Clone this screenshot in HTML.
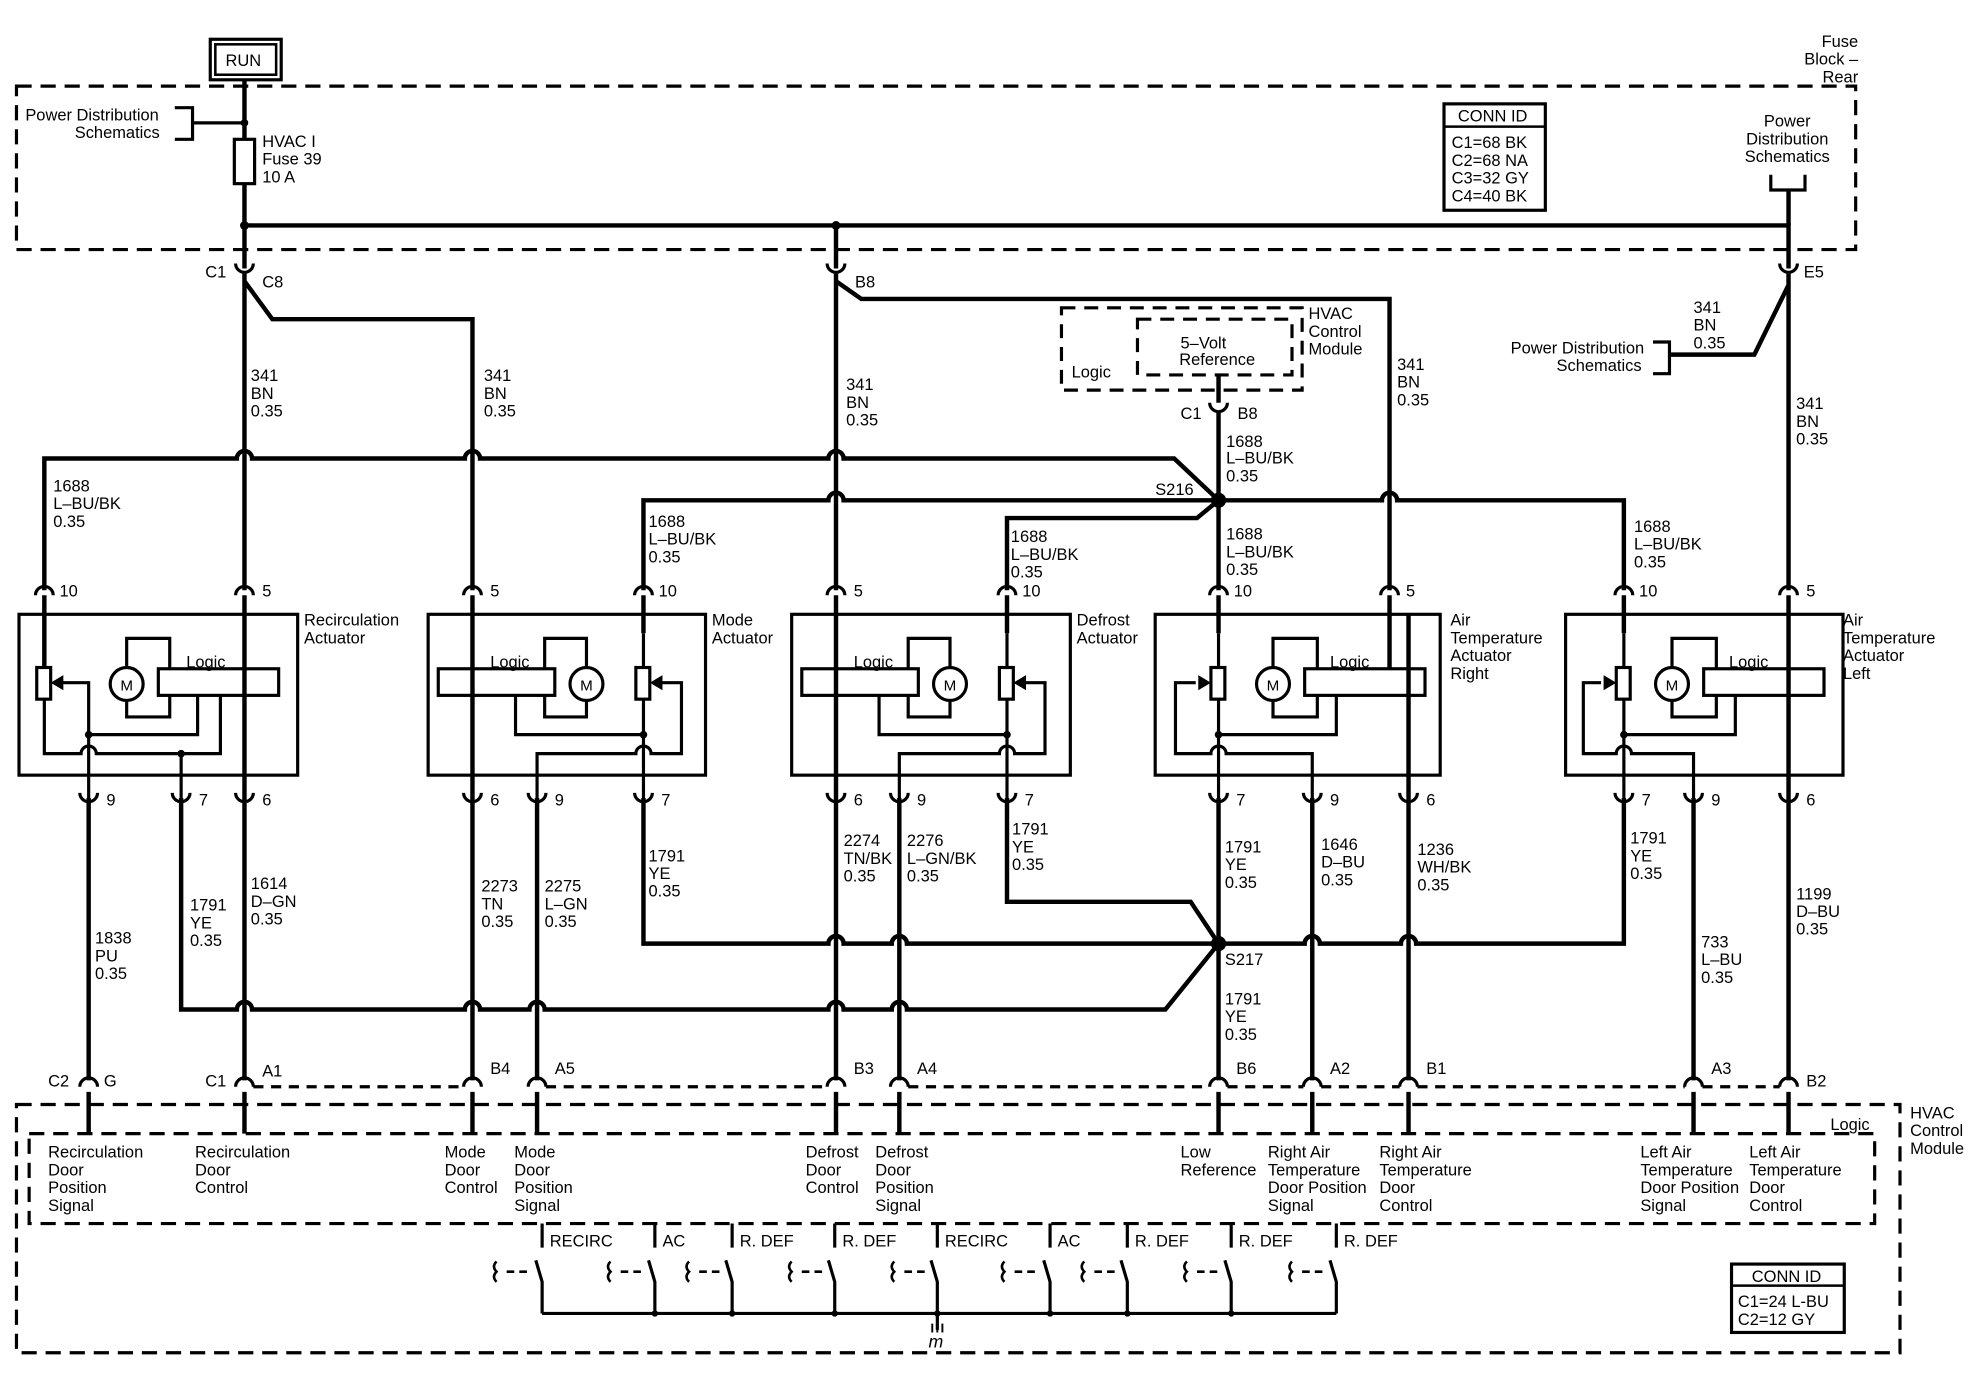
<!DOCTYPE html>
<html><head><meta charset="utf-8"><style>
html,body{margin:0;padding:0;background:#fff}
svg{display:block}
text{font-family:"Liberation Sans",Arial,sans-serif;font-size:13px;fill:#000}
</style></head><body>
<svg width="1976" height="1392" viewBox="0 0 1560 1099" preserveAspectRatio="none" xmlns="http://www.w3.org/2000/svg">
<rect width="1560" height="1099" fill="#fff"/>
<g fill="none" stroke="#000" stroke-width="3.5">
<rect x="13" y="68" width="1452" height="129" stroke-width="2.5" stroke-dasharray="12,7"/>
<rect x="166" y="31" width="56" height="32" stroke-width="2.5"/>
<rect x="170" y="35" width="48" height="24" stroke-width="2"/>
<path d="M193 63 V110 M193 145 V212"/>
<rect x="185" y="110" width="16" height="35" stroke-width="2.5"/>
<path d="M193 97 H152 M138 85 H152 V110 H138" stroke-width="2.5"/>
<path d="M193 178 H1412 V212 M660 178 V212"/>
<path d="M1398 138 V150 H1425 V138" stroke-width="2.5"/>
<path d="M1412 150 V178"/>
<rect x="1140" y="82" width="80" height="84" stroke-width="2.5"/>
<path d="M1140 100 H1220" stroke-width="2"/>
<path d="M186 208 A7 7 0 0 0 200 208 M653 208 A7 7 0 0 0 667 208 M1405 208 A7 7 0 0 0 1419 208" stroke-width="2.5"/>
<path d="M193 216 V466 M193 222 L215 252 H373 V466"/>
<path d="M660 216 V466 M660 222 L680 236 H1097 V466"/>
<path d="M1412 216 V466 M1412 225 L1385 280 H1318"/>
<path d="M1305 270 H1318 V295 H1305" stroke-width="2.5"/>
<rect x="838" y="243" width="190" height="65" stroke-width="2.5" stroke-dasharray="11,7"/>
<rect x="898" y="252" width="122" height="44" stroke-width="2.5" stroke-dasharray="11,7"/>
<path d="M962 296 V318 M962 326 V466"/>
<path d="M955 318 A7 7 0 0 0 969 318" stroke-width="2.5"/>
<path d="M35 466 V362 H187 A6 6 0 0 1 199 362 H367 A6 6 0 0 1 379 362 H654 A6 6 0 0 1 666 362 H927 L962 395"/>
<path d="M508 466 V395 H654 A6 6 0 0 1 666 395 H1091 A6 6 0 0 1 1103 395 H1282 V466"/>
<path d="M795 466 V409 H945 L962 395"/>
<g stroke-width="2.5">
<path d="M28 470 A7 7 0 0 1 42 470 M186 470 A7 7 0 0 1 200 470 M366 470 A7 7 0 0 1 380 470 M501 470 A7 7 0 0 1 515 470 M653 470 A7 7 0 0 1 667 470 M788 470 A7 7 0 0 1 802 470 M955 470 A7 7 0 0 1 969 470 M1090 470 A7 7 0 0 1 1104 470 M1275 470 A7 7 0 0 1 1289 470 M1405 470 A7 7 0 0 1 1419 470"/>
</g>
<path d="M35 470 V527 M193 470 V485 M373 470 V485 M508 470 V500 M660 470 V485 M795 470 V500 M962 470 V500 M1097 470 V485 M1282 470 V500 M1412 470 V485"/>
</g>
<g fill="none" stroke="#000" stroke-width="2.5">
<rect x="15" y="485" width="220" height="127"/>
<rect x="29" y="527" width="11" height="25"/>
<rect x="125" y="528" width="95" height="21"/>
<ellipse cx="100" cy="540" rx="13" ry="13"/>
<path d="M100 527 V504 H134 V528 M100 553 V566 H134 V549"/>
<path d="M35 552 V595 H64 A6 6 0 0 1 76 595 H174 V549"/>
<path d="M70 630 V539 H48 M70 580 H156 V549"/>
<path d="M143 595 V630"/>
<path d="M193 485 V630" stroke-width="3.5"/>
<g>
<rect x="338" y="485" width="219" height="127"/>
<rect x="502" y="527" width="11" height="25"/>
<rect x="346" y="528" width="92" height="21"/>
<ellipse cx="463" cy="540" rx="13" ry="13"/>
<path d="M463 527 V504 H430 V528 M463 553 V566 H430 V549"/>
<path d="M508 500 V527 M508 552 V630"/>
<path d="M508 580 H407 V549"/>
<path d="M424 630 V595 H502 A6 6 0 0 1 514 595 H538 V539 H522"/>
<path d="M373 485 V630" stroke-width="3.5"/>
</g>
<g transform="translate(287,0)">
<rect x="338" y="485" width="220" height="127"/>
<rect x="502" y="527" width="11" height="25"/>
<rect x="346" y="528" width="92" height="21"/>
<ellipse cx="463" cy="540" rx="13" ry="13"/>
<path d="M463 527 V504 H430 V528 M463 553 V566 H430 V549"/>
<path d="M508 500 V527 M508 552 V630"/>
<path d="M508 580 H407 V549"/>
<path d="M423 630 V595 H502 A6 6 0 0 1 514 595 H538 V539 H522"/>
<path d="M373 485 V630" stroke-width="3.5"/>
</g>
<rect x="912" y="485" width="225" height="127"/>
<rect x="956" y="527" width="11" height="25"/>
<rect x="1030" y="528" width="95" height="21"/>
<ellipse cx="1005" cy="540" rx="13" ry="13"/>
<path d="M1005 527 V504 H1040 V528 M1005 553 V566 H1040 V549"/>
<path d="M962 500 V527 M962 552 V630"/>
<path d="M962 580 H1055 V549"/>
<path d="M1036 630 V595 H968 A6 6 0 0 0 956 595 H928 V539 H944"/>
<path d="M1112 485 V630 M1097 485 V528" stroke-width="3.5"/>
<rect x="1236" y="485" width="219" height="127"/>
<rect x="1276" y="527" width="11" height="25"/>
<rect x="1345" y="528" width="95" height="21"/>
<ellipse cx="1320" cy="540" rx="13" ry="13"/>
<path d="M1320 527 V504 H1355 V528 M1320 553 V566 H1355 V549"/>
<path d="M1282 500 V527 M1282 552 V630"/>
<path d="M1282 580 H1370 V549"/>
<path d="M1337 630 V595 H1288 A6 6 0 0 0 1276 595 H1250 V539 H1264"/>
<path d="M1412 485 V630" stroke-width="3.5"/>
</g>
<g fill="#000">
<path d="M40 539 L50 533 L50 545 Z"/>
<path d="M513 539 L523 533 L523 545 Z"/>
<path d="M800 539 L810 533 L810 545 Z"/>
<path d="M956 539 L946 533 L946 545 Z"/>
<path d="M1276 539 L1266 533 L1266 545 Z"/>
<circle cx="70" cy="580" r="3"/><circle cx="143" cy="595" r="3"/>
<circle cx="508" cy="580" r="3"/><circle cx="795" cy="580" r="3"/>
<circle cx="962" cy="580" r="3"/><circle cx="1282" cy="580" r="3"/>
<circle cx="962" cy="395" r="6"/><circle cx="962" cy="745" r="6"/>
<circle cx="193" cy="97" r="3"/><circle cx="193" cy="178" r="3.5"/><circle cx="660" cy="178" r="3.5"/>
</g>
<g fill="none" stroke="#000" stroke-width="3.5">
<g stroke-width="2.5">
<path d="M63 626 A7 7 0 0 0 77 626 M136 626 A7 7 0 0 0 150 626 M186 626 A7 7 0 0 0 200 626 M366 626 A7 7 0 0 0 380 626 M417 626 A7 7 0 0 0 431 626 M501 626 A7 7 0 0 0 515 626 M653 626 A7 7 0 0 0 667 626 M703 626 A7 7 0 0 0 717 626 M788 626 A7 7 0 0 0 802 626 M955 626 A7 7 0 0 0 969 626 M1029 626 A7 7 0 0 0 1043 626 M1105 626 A7 7 0 0 0 1119 626 M1275 626 A7 7 0 0 0 1289 626 M1330 626 A7 7 0 0 0 1344 626 M1405 626 A7 7 0 0 0 1419 626"/>
</g>
<path d="M70 630 V853 M193 630 V853 M373 630 V853 M424 630 V853 M660 630 V853 M710 630 V853 M962 630 V853 M1036 630 V853 M1112 630 V853 M1337 630 V853 M1412 630 V853"/>
<path d="M143 630 V797 H187 A6 6 0 0 1 199 797 H367 A6 6 0 0 1 379 797 H418 A6 6 0 0 1 430 797 H654 A6 6 0 0 1 666 797 H704 A6 6 0 0 1 716 797 H920 L962 745"/>
<path d="M508 630 V745 H654 A6 6 0 0 1 666 745 H704 A6 6 0 0 1 716 745 H962 H1030 A6 6 0 0 1 1042 745 H1106 A6 6 0 0 1 1118 745 H1282 V630"/>
<path d="M795 630 V712 H940 L962 745"/>
<g stroke-width="2.5">
<path d="M63 858 A7 7 0 0 1 77 858 M186 858 A7 7 0 0 1 200 858 M366 858 A7 7 0 0 1 380 858 M417 858 A7 7 0 0 1 431 858 M653 858 A7 7 0 0 1 667 858 M703 858 A7 7 0 0 1 717 858 M955 858 A7 7 0 0 1 969 858 M1029 858 A7 7 0 0 1 1043 858 M1105 858 A7 7 0 0 1 1119 858 M1330 858 A7 7 0 0 1 1344 858 M1405 858 A7 7 0 0 1 1419 858"/>
<path d="M200 858 H366 M431 858 H653 M717 858 H955 M969 858 H1029 M1043 858 H1105 M1119 858 H1330 M1344 858 H1405" stroke-dasharray="8,6"/>
</g>
<path d="M70 862 V895 M193 862 V895 M373 862 V895 M424 862 V895 M660 862 V895 M710 862 V895 M962 862 V895 M1036 862 V895 M1112 862 V895 M1337 862 V895 M1412 862 V895"/>
<rect x="13" y="872" width="1487" height="196" stroke-width="2.5" stroke-dasharray="12,7"/>
<rect x="23" y="895" width="1457" height="71" stroke-width="2.5" stroke-dasharray="12,7"/>
<g stroke-width="2.5">
<path d="M428 985 V966 M517 985 V966 M578 985 V966 M659 985 V966 M740 985 V966 M829 985 V966 M890 985 V966 M972 985 V966 M1055 985 V966"/>
<path d="M423 995 L428 1012 V1037 M512 995 L517 1012 V1037 M573 995 L578 1012 V1037 M654 995 L659 1012 V1037 M735 995 L740 1012 V1037 M824 995 L829 1012 V1037 M885 995 L890 1012 V1037 M967 995 L972 1012 V1037 M1050 995 L1055 1012 V1037"/>
<path d="M428 1037 H1055 M740 1037 V1050"/>
<path d="M736 1045 V1052 M740 1045 V1052 M744 1045 V1052" stroke-width="1.5"/>
<path d="M400 1004 H406 M410 1004 H416 M490 1004 H496 M500 1004 H506 M552 1004 H558 M562 1004 H568 M633 1004 H639 M643 1004 H649 M714 1004 H720 M724 1004 H730 M801 1004 H807 M811 1004 H817 M864 1004 H870 M874 1004 H880 M945 1004 H951 M955 1004 H961 M1028 1004 H1034 M1038 1004 H1044" stroke-width="2"/>
<path d="M392 996 Q388 1000 392 1004 Q388 1008 392 1012 M482 996 Q478 1000 482 1004 Q478 1008 482 1012 M544 996 Q540 1000 544 1004 Q540 1008 544 1012 M625 996 Q621 1000 625 1004 Q621 1008 625 1012 M706 996 Q702 1000 706 1004 Q702 1008 706 1012 M793 996 Q789 1000 793 1004 Q789 1008 793 1012 M856 996 Q852 1000 856 1004 Q852 1008 856 1012 M937 996 Q933 1000 937 1004 Q933 1008 937 1012 M1020 996 Q1016 1000 1020 1004 Q1016 1008 1020 1012" stroke-width="2"/>
</g>
<rect x="1367" y="998" width="89" height="54" stroke-width="2.5"/>
<path d="M1367 1015 H1456" stroke-width="2"/>
</g>
<g fill="#000"><circle cx="517" cy="1037" r="2.5"/><circle cx="578" cy="1037" r="2.5"/><circle cx="659" cy="1037" r="2.5"/><circle cx="740" cy="1037" r="2.5"/><circle cx="829" cy="1037" r="2.5"/><circle cx="890" cy="1037" r="2.5"/><circle cx="972" cy="1037" r="2.5"/></g>

<text x="178" y="52">RUN</text>
<text x="20" y="95">Power Distribution</text><text x="59" y="109">Schematics</text>
<text x="207" y="116">HVAC I</text><text x="207" y="130">Fuse 39</text><text x="207" y="144">10 A</text>
<text x="1467" y="37" text-anchor="end">Fuse</text><text x="1467" y="51" text-anchor="end">Block –</text><text x="1467" y="65" text-anchor="end">Rear</text>
<text x="1151" y="96">CONN ID</text>
<text x="1146" y="117">C1=68 BK</text><text x="1146" y="131">C2=68 NA</text><text x="1146" y="145">C3=32 GY</text><text x="1146" y="159">C4=40 BK</text>
<text x="1411" y="100" text-anchor="middle">Power</text><text x="1411" y="114" text-anchor="middle">Distribution</text><text x="1411" y="128" text-anchor="middle">Schematics</text>
<text x="162" y="219">C1</text><text x="207" y="227">C8</text><text x="675" y="227">B8</text><text x="1424" y="219">E5</text>
<text x="1298" y="279" text-anchor="end">Power Distribution</text><text x="1296" y="293" text-anchor="end">Schematics</text>
<text x="198" y="301">341</text><text x="198" y="315">BN</text><text x="198" y="329">0.35</text>
<text x="382" y="301">341</text><text x="382" y="315">BN</text><text x="382" y="329">0.35</text>
<text x="668" y="308">341</text><text x="668" y="322">BN</text><text x="668" y="336">0.35</text>
<text x="1103" y="292">341</text><text x="1103" y="306">BN</text><text x="1103" y="320">0.35</text>
<text x="1337" y="247">341</text><text x="1337" y="261">BN</text><text x="1337" y="275">0.35</text>
<text x="1418" y="323">341</text><text x="1418" y="337">BN</text><text x="1418" y="351">0.35</text>
<text x="1033" y="252">HVAC</text><text x="1033" y="266">Control</text><text x="1033" y="280">Module</text>
<text x="846" y="298">Logic</text>
<text x="932" y="275">5–Volt</text><text x="931" y="288">Reference</text>
<text x="932" y="331">C1</text><text x="977" y="331">B8</text>
<text x="968" y="353">1688</text><text x="968" y="366">L–BU/BK</text><text x="968" y="380">0.35</text>
<text x="912" y="391">S216</text>
<text x="42" y="388">1688</text><text x="42" y="402">L–BU/BK</text><text x="42" y="416">0.35</text>
<text x="512" y="416">1688</text><text x="512" y="430">L–BU/BK</text><text x="512" y="444">0.35</text>
<text x="798" y="428">1688</text><text x="798" y="442">L–BU/BK</text><text x="798" y="456">0.35</text>
<text x="968" y="426">1688</text><text x="968" y="440">L–BU/BK</text><text x="968" y="454">0.35</text>
<text x="1290" y="420">1688</text><text x="1290" y="434">L–BU/BK</text><text x="1290" y="448">0.35</text>
<text x="47" y="471">10</text><text x="207" y="471">5</text><text x="387" y="471">5</text><text x="520" y="471">10</text>
<text x="674" y="471">5</text><text x="807" y="471">10</text><text x="974" y="471">10</text><text x="1110" y="471">5</text>
<text x="1294" y="471">10</text><text x="1426" y="471">5</text>
<text x="240" y="494">Recirculation</text><text x="240" y="508">Actuator</text>
<text x="562" y="494">Mode</text><text x="562" y="508">Actuator</text>
<text x="850" y="494">Defrost</text><text x="850" y="508">Actuator</text>
<text x="1145" y="494">Air</text><text x="1145" y="508">Temperature</text><text x="1145" y="522">Actuator</text><text x="1145" y="536">Right</text>
<text x="1455" y="494">Air</text><text x="1455" y="508">Temperature</text><text x="1455" y="522">Actuator</text><text x="1455" y="536">Left</text>
<text x="147" y="527">Logic</text><text x="387" y="527">Logic</text><text x="674" y="527">Logic</text><text x="1050" y="527">Logic</text><text x="1365" y="527">Logic</text>
<text x="95" y="545" style="font-size:12px">M</text><text x="458" y="545" style="font-size:12px">M</text><text x="745" y="545" style="font-size:12px">M</text><text x="1000" y="545" style="font-size:12px">M</text><text x="1315" y="545" style="font-size:12px">M</text>
<text x="84" y="636">9</text><text x="157" y="636">7</text><text x="207" y="636">6</text>
<text x="387" y="636">6</text><text x="438" y="636">9</text><text x="522" y="636">7</text>
<text x="674" y="636">6</text><text x="724" y="636">9</text><text x="809" y="636">7</text>
<text x="976" y="636">7</text><text x="1050" y="636">9</text><text x="1126" y="636">6</text>
<text x="1296" y="636">7</text><text x="1351" y="636">9</text><text x="1426" y="636">6</text>
<text x="75" y="745">1838</text><text x="75" y="759">PU</text><text x="75" y="773">0.35</text>
<text x="150" y="719">1791</text><text x="150" y="733">YE</text><text x="150" y="747">0.35</text>
<text x="198" y="702">1614</text><text x="198" y="716">D–GN</text><text x="198" y="730">0.35</text>
<text x="380" y="704">2273</text><text x="380" y="718">TN</text><text x="380" y="732">0.35</text>
<text x="430" y="704">2275</text><text x="430" y="718">L–GN</text><text x="430" y="732">0.35</text>
<text x="512" y="680">1791</text><text x="512" y="694">YE</text><text x="512" y="708">0.35</text>
<text x="666" y="668">2274</text><text x="666" y="682">TN/BK</text><text x="666" y="696">0.35</text>
<text x="716" y="668">2276</text><text x="716" y="682">L–GN/BK</text><text x="716" y="696">0.35</text>
<text x="799" y="659">1791</text><text x="799" y="673">YE</text><text x="799" y="687">0.35</text>
<text x="967" y="673">1791</text><text x="967" y="687">YE</text><text x="967" y="701">0.35</text>
<text x="1043" y="671">1646</text><text x="1043" y="685">D–BU</text><text x="1043" y="699">0.35</text>
<text x="1119" y="675">1236</text><text x="1119" y="689">WH/BK</text><text x="1119" y="703">0.35</text>
<text x="1287" y="666">1791</text><text x="1287" y="680">YE</text><text x="1287" y="694">0.35</text>
<text x="1343" y="748">733</text><text x="1343" y="762">L–BU</text><text x="1343" y="776">0.35</text>
<text x="1418" y="710">1199</text><text x="1418" y="724">D–BU</text><text x="1418" y="738">0.35</text>
<text x="967" y="762">S217</text>
<text x="967" y="793">1791</text><text x="967" y="807">YE</text><text x="967" y="821">0.35</text>
<text x="38" y="858">C2</text><text x="82" y="858">G</text>
<text x="162" y="858">C1</text><text x="207" y="850">A1</text>
<text x="387" y="848">B4</text><text x="438" y="848">A5</text>
<text x="674" y="848">B3</text><text x="724" y="848">A4</text>
<text x="976" y="848">B6</text><text x="1050" y="848">A2</text><text x="1126" y="848">B1</text>
<text x="1351" y="848">A3</text><text x="1426" y="858">B2</text>
<text x="1445" y="892">Logic</text>
<text x="1508" y="883">HVAC</text><text x="1508" y="897">Control</text><text x="1508" y="911">Module</text>
<text x="38" y="914">Recirculation</text><text x="38" y="928">Door</text><text x="38" y="942">Position</text><text x="38" y="956">Signal</text>
<text x="154" y="914">Recirculation</text><text x="154" y="928">Door</text><text x="154" y="942">Control</text>
<text x="351" y="914">Mode</text><text x="351" y="928">Door</text><text x="351" y="942">Control</text>
<text x="406" y="914">Mode</text><text x="406" y="928">Door</text><text x="406" y="942">Position</text><text x="406" y="956">Signal</text>
<text x="636" y="914">Defrost</text><text x="636" y="928">Door</text><text x="636" y="942">Control</text>
<text x="691" y="914">Defrost</text><text x="691" y="928">Door</text><text x="691" y="942">Position</text><text x="691" y="956">Signal</text>
<text x="932" y="914">Low</text><text x="932" y="928">Reference</text>
<text x="1001" y="914">Right Air</text><text x="1001" y="928">Temperature</text><text x="1001" y="942">Door Position</text><text x="1001" y="956">Signal</text>
<text x="1089" y="914">Right Air</text><text x="1089" y="928">Temperature</text><text x="1089" y="942">Door</text><text x="1089" y="956">Control</text>
<text x="1295" y="914">Left Air</text><text x="1295" y="928">Temperature</text><text x="1295" y="942">Door Position</text><text x="1295" y="956">Signal</text>
<text x="1381" y="914">Left Air</text><text x="1381" y="928">Temperature</text><text x="1381" y="942">Door</text><text x="1381" y="956">Control</text>
<text x="434" y="984">RECIRC</text><text x="523" y="984">AC</text><text x="584" y="984">R. DEF</text><text x="665" y="984">R. DEF</text>
<text x="746" y="984">RECIRC</text><text x="835" y="984">AC</text><text x="896" y="984">R. DEF</text><text x="978" y="984">R. DEF</text><text x="1061" y="984">R. DEF</text>
<text x="733" y="1064" style="font-style:italic;font-size:14px">m</text>
<text x="1383" y="1012">CONN ID</text>
<text x="1372" y="1032">C1=24 L-BU</text><text x="1372" y="1046">C2=12 GY</text>
</svg>
</body></html>
